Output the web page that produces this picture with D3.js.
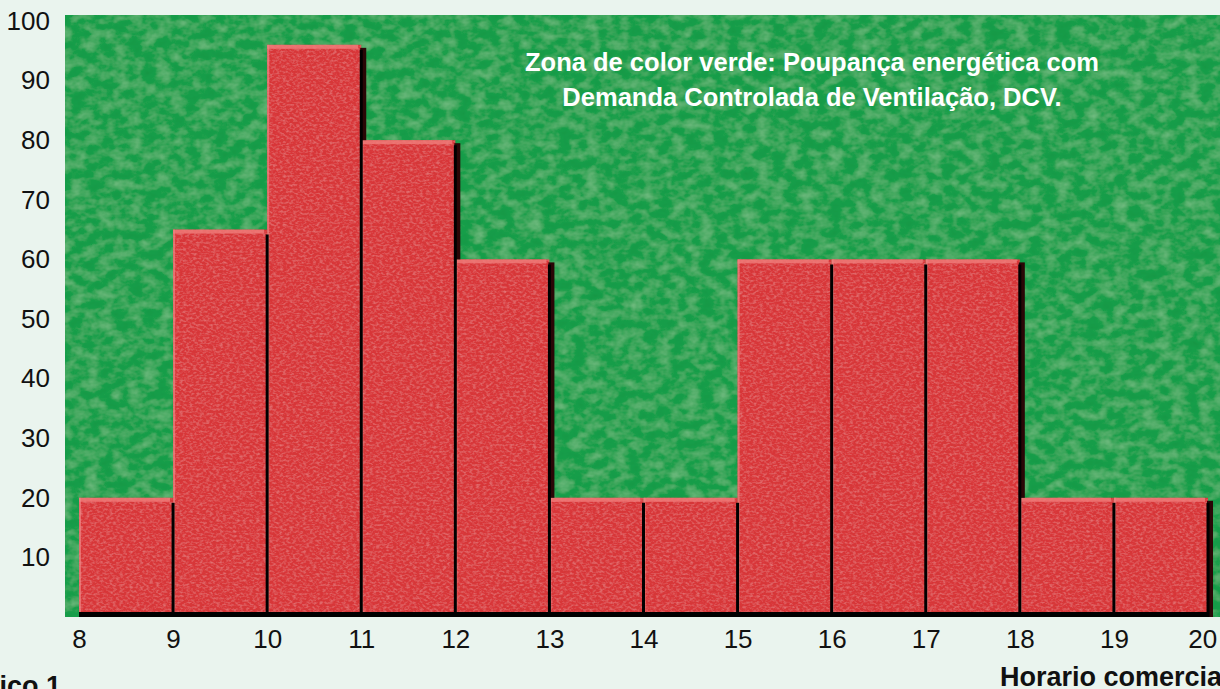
<!DOCTYPE html>
<html><head><meta charset="utf-8">
<script src="https://cdn.jsdelivr.net/npm/d3@7"></script>
<style>
html,body{margin:0;padding:0;background:#eaf4ee;}
svg{display:block;}
text{font-family:"Liberation Sans",Arial,Helvetica,sans-serif;}
</style></head>
<body>
<svg id="chart" width="1220" height="689"></svg>
<script>
// ---- data ----
const startHours = [8, 9, 10, 11, 12, 13, 14, 15, 16, 17, 18, 19];
const values     = [20, 65, 96, 80, 60, 20, 20, 60, 60, 60, 20, 20];
const xTicks     = [8, 9, 10, 11, 12, 13, 14, 15, 16, 17, 18, 19, 20];
const yTicks     = [10, 20, 30, 40, 50, 60, 70, 80, 90, 100];
const noteLines  = ["Zona de color verde: Poupança energética com", "Demanda Controlada de Ventilação, DCV."];
const xTitle     = "Horario comercial";
const figLabel   = "Gráfico 1";

const svg = d3.select("#chart");
const W = 1220, H = 689;

const x = d3.scaleLinear().domain([8, 20]).range([79, 1208]);
const y = d3.scaleLinear().domain([0, 100]).range([617, 21]);

const defs = svg.append("defs");
function texFilter(id, freq, lc, a, b, ka, kb, seed, oct) {
  const f = defs.append("filter").attr("id", id)
    .attr("x", 0).attr("y", 0).attr("width", 1).attr("height", 1)
    .attr("filterUnits", "objectBoundingBox");
  f.append("feTurbulence").attr("type", "fractalNoise").attr("baseFrequency", freq)
    .attr("numOctaves", oct).attr("seed", seed).attr("result", "n");
  f.append("feColorMatrix").attr("in", "n").attr("type", "matrix")
    .attr("values", `0 0 0 0 ${lc[0]}  0 0 0 0 ${lc[1]}  0 0 0 0 ${lc[2]}  ${a} 0 0 0 ${b}`).attr("result", "w");
  f.append("feColorMatrix").attr("in", "n").attr("type", "matrix")
    .attr("values", `0 0 0 0 0  0 0 0 0 0.1  0 0 0 0 0  ${ka} 0 0 0 ${kb}`).attr("result", "k");
  f.append("feComposite").attr("in", "w").attr("in2", "SourceGraphic").attr("operator", "in").attr("result", "wc");
  f.append("feComposite").attr("in", "k").attr("in2", "SourceGraphic").attr("operator", "in").attr("result", "kc");
  const m = f.append("feMerge");
  m.append("feMergeNode").attr("in", "SourceGraphic");
  m.append("feMergeNode").attr("in", "wc");
  m.append("feMergeNode").attr("in", "kc");
}
texFilter("gtex", "0.07 0.1", [0.45, 0.8, 0.5], 0.6, -0.25, -0.4, 0.16, 4, 3);
texFilter("rtex", "0.3 0.45", [1, 0.6, 0.6], 0.5, -0.22, -0.3, 0.12, 7, 2);

// green plot area
svg.append("rect")
  .attr("x", 65).attr("y", 15).attr("width", W - 65).attr("height", y(0) - 15)
  .attr("fill", "#1f9f4c").attr("filter", "url(#gtex)");

// bars
const bars = svg.append("g");
const data = startHours.map((h, i) => ({ h, v: values[i], next: values[i + 1] }));

bars.selectAll("rect.bar").data(data).join("rect").attr("class", "bar")
  .attr("x", d => x(d.h)).attr("y", d => y(d.v))
  .attr("width", d => x(d.h + 1) - x(d.h)).attr("height", d => y(0) - y(d.v))
  .attr("fill", "#d9393b").attr("filter", "url(#rtex)");

// top highlight face
bars.selectAll("rect.top").data(data).join("rect").attr("class", "top")
  .attr("x", d => x(d.h)).attr("y", d => y(d.v))
  .attr("width", d => x(d.h + 1) - x(d.h) - 3).attr("height", 4)
  .attr("fill", "#ef7a78").attr("opacity", 0.85);

// left highlight
bars.selectAll("rect.left").data(data).join("rect").attr("class", "left")
  .attr("x", d => x(d.h)).attr("y", d => y(d.v))
  .attr("width", 2).attr("height", d => y(0) - y(d.v))
  .attr("fill", "#ee8684").attr("opacity", 0.7);

// dark shadow where bar drops to the right
bars.selectAll("rect.shadow").data(data.filter(d => d.next === undefined || d.next < d.v)).join("rect")
  .attr("class", "shadow")
  .attr("x", d => x(d.h + 1) - 1).attr("y", d => y(d.v) + 3)
  .attr("width", 6)
  .attr("height", d => (d.next === undefined ? y(0) : y(d.next)) - y(d.v) - 3)
  .attr("fill", "#2a0606");

// black right edges
bars.selectAll("line.edge").data(data).join("line").attr("class", "edge")
  .attr("x1", d => x(d.h + 1)).attr("x2", d => x(d.h + 1))
  .attr("y1", d => y(d.v) + 5).attr("y2", y(0))
  .attr("stroke", "#000").attr("stroke-width", 3);

// baseline
svg.append("rect")
  .attr("x", x(8)).attr("y", y(0) - 5).attr("width", x(20) - x(8)).attr("height", 5)
  .attr("fill", "#000");

// y axis
const yAxis = d3.axisLeft(y).tickValues(yTicks).tickSize(0).tickPadding(0);
const gy = svg.append("g").attr("transform", "translate(50,0)").call(yAxis);
gy.select(".domain").remove();
gy.selectAll("text").attr("font-size", 26).attr("fill", "#111")
  .attr("font-family", "'Liberation Sans',Arial,sans-serif");

// x axis
const xAxis = d3.axisBottom(x).tickValues(xTicks).tickSize(0).tickPadding(0).tickFormat(d3.format("d"));
const gx = svg.append("g").attr("transform", `translate(0,${y(0) + 13})`).call(xAxis);
gx.select(".domain").remove();
gx.selectAll("text").attr("font-size", 26).attr("fill", "#111")
  .attr("font-family", "'Liberation Sans',Arial,sans-serif");
// keep the last label inside the frame
gx.selectAll(".tick").filter(d => d === 20).select("text")
  .attr("text-anchor", "end").attr("dx", "0.33em");

// note
svg.append("g").selectAll("text").data(noteLines).join("text")
  .attr("x", 812).attr("y", (d, i) => 71 + i * 35)
  .attr("text-anchor", "middle").attr("font-size", 25.5).attr("font-weight", "bold")
  .attr("fill", "#fff").text(d => d);

// x title (clipped on the right like the reference)
svg.append("text").attr("x", 1000).attr("y", 686)
  .attr("font-size", 27).attr("font-weight", "bold").attr("fill", "#111").text(xTitle);

// figure label (clipped on the left like the reference)
svg.append("text").attr("x", -56).attr("y", 695)
  .attr("font-size", 27).attr("font-weight", "bold").attr("fill", "#111").text(figLabel);
</script>
</body></html>
